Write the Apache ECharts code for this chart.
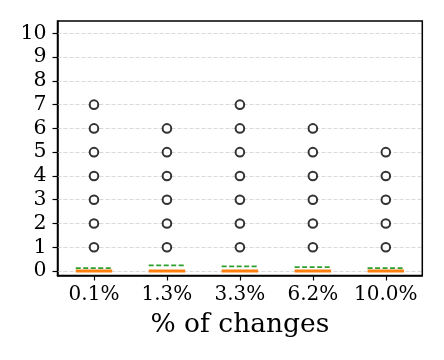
<!DOCTYPE html>
<html><head><meta charset="utf-8">
<script src="https://cdn.jsdelivr.net/npm/echarts@6/dist/echarts.min.js"></script>
<style>html,body{margin:0;padding:0;background:#fff}#c{width:444px;height:360px}</style>
</head><body><div id="c"></div>
<script>
const categories = ['0.1%', '1.3%', '3.3%', '6.2%', '10.0%'];
const medians = [0, 0, 0, 0, 0];
const means = [0.12, 0.24, 0.19, 0.16, 0.12];
const outliers0 = [1, 2, 3, 4, 5, 6, 7];
const outliers1 = [1, 2, 3, 4, 5, 6];
const outliers2 = [1, 2, 3, 4, 5, 6, 7];
const outliers3 = [1, 2, 3, 4, 5, 6];
const outliers4 = [1, 2, 3, 4, 5];
const yTicks = [0, 1, 2, 3, 4, 5, 6, 7, 8, 9, 10];
const xTitle = '% of changes';

const outlierLists = [outliers0, outliers1, outliers2, outliers3, outliers4];
const flierData = [];
outlierLists.forEach((arr, i) => arr.forEach(v => flierData.push([i, v])));

const font = 'DejaVu Serif';
function segRenderer(color, width, dash) {
  return function (params, api) {
    const c = api.coord([api.value(0), api.value(1)]);
    const w = api.size([1, 0])[0] * 0.5;
    return {
      type: 'line',
      shape: {x1: c[0] - w / 2, y1: c[1], x2: c[0] + w / 2, y2: c[1]},
      style: {stroke: color, lineWidth: width, lineDash: dash}
    };
  };
}

const chart = echarts.init(document.getElementById('c'), null, {renderer: 'canvas'});
chart.setOption({
  animation: false,
  grid: {left: 57.5, right: 21.7, top: 21, bottom: 84.5, show: true, borderColor: '#000', borderWidth: 1.5, backgroundColor: 'transparent', z: 10},
  xAxis: {
    type: 'category', data: categories, boundaryGap: true,
    axisLine: {show: true, onZero: false, lineStyle: {color: '#000', width: 1.5}},
    axisTick: {show: true, alignWithLabel: true, length: 5, lineStyle: {color: '#000', width: 1.2}},
    axisLabel: {color: '#000', fontFamily: font, fontSize: 20, margin: 9, interval: 0},
    splitLine: {show: false},
    name: xTitle, nameLocation: 'middle', nameGap: 36,
    nameTextStyle: {color: '#000', fontFamily: font, fontSize: 26.5}
  },
  yAxis: {
    type: 'value', min: -0.19, max: 10.52,
    axisLine: {show: true, lineStyle: {color: '#000', width: 1.5}},
    axisTick: {show: true, length: 5, lineStyle: {color: '#000', width: 1.2}, customValues: yTicks},
    axisLabel: {color: '#000', fontFamily: font, fontSize: 20.5, margin: 11, customValues: yTicks},
    splitLine: {show: false}
  },
  series: [
    {
      type: 'line', data: [], silent: true,
      markLine: {
        silent: true, symbol: 'none', label: {show: false},
        lineStyle: {color: '#d6d6d6', type: [4, 2], width: 0.9},
        data: yTicks.map(v => ({yAxis: v}))
      }
    },
    {
      type: 'custom', data: medians.map((v, i) => [i, v]),
      renderItem: segRenderer('#ff7f0e', 3, null), z: 5
    },
    {
      type: 'custom', data: means.map((v, i) => [i, v]),
      renderItem: segRenderer('#2ca02c', 1.8, [5, 2.5]), z: 6
    },
    {
      type: 'scatter', data: flierData, symbol: 'emptyCircle', symbolSize: 8.6,
      itemStyle: {color: '#000', borderColor: '#000', borderWidth: 3}, z: 7
    }
  ]
});
</script></body></html>
